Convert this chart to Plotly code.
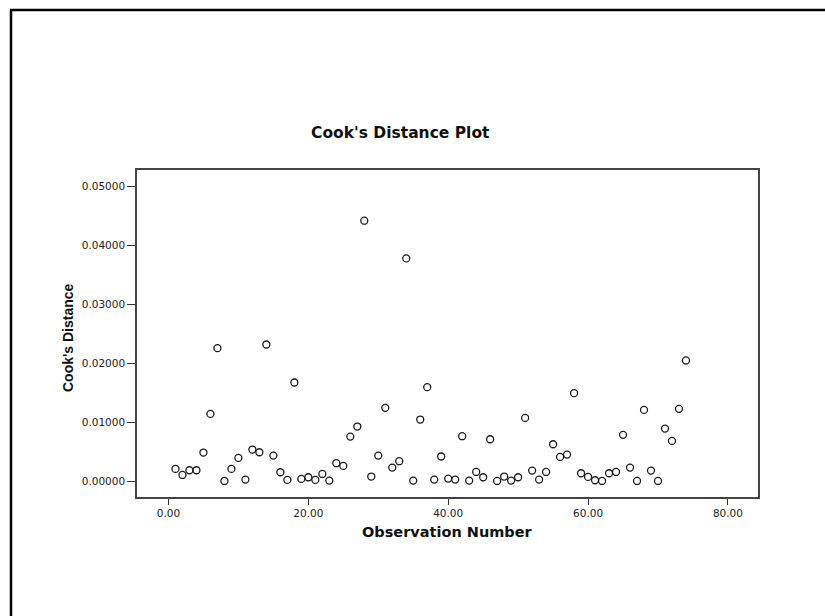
import plotly.graph_objects as go

# Data
observation = list(range(1, 75))
cooks_distance = [
    0.00210, 0.00107, 0.00187, 0.00187, 0.00487, 0.01143, 0.02258, 0.00005, 0.00210, 0.00396,
    0.00028, 0.00538, 0.00492, 0.02320, 0.00436, 0.00153, 0.00023, 0.01675, 0.00040, 0.00068,
    0.00023, 0.00124, 0.00011, 0.00306, 0.00260, 0.00758, 0.00928, 0.04420, 0.00080, 0.00436,
    0.01245, 0.00232, 0.00340, 0.03780, 0.00011, 0.01047, 0.01596, 0.00028, 0.00420, 0.00045,
    0.00028, 0.00764, 0.00011, 0.00158, 0.00068, 0.00713, 0.00005, 0.00080, 0.00011, 0.00068,
    0.01075, 0.00181, 0.00028, 0.00158, 0.00628, 0.00413, 0.00453, 0.01494, 0.00136, 0.00074,
    0.00017, 0.00005, 0.00136, 0.00158, 0.00787, 0.00232, 0.00005, 0.01210, 0.00181, 0.00005,
    0.00894, 0.00685, 0.01228, 0.02049,
]
x_ticks = [0, 20, 40, 60, 80]
y_ticks = [0.0, 0.01, 0.02, 0.03, 0.04, 0.05]

title_text = "Cook's Distance Plot"
x_title = "Observation Number"
y_title = "Cook's Distance"

fig = go.Figure()
fig.add_trace(go.Scatter(
    x=observation, y=cooks_distance, mode="markers",
    marker=dict(symbol="circle-open", size=7, color="#1a1a1a", line=dict(width=1.3)),
    showlegend=False, hoverinfo="x+y",
))

tick_font = dict(family="DejaVu Sans", size=10.5, color="#222222")

fig.update_layout(
    width=825, height=616,
    margin=dict(l=137, r=67, t=170, b=119),
    paper_bgcolor="white", plot_bgcolor="white",
    xaxis=dict(
        range=[-4.5, 84.3], tickvals=x_ticks, tickformat=".2f",
        showgrid=False, zeroline=False, showline=True, mirror=True,
        linecolor="#444444", linewidth=1.5,
        ticks="outside", ticklen=6, tickwidth=1.2, tickcolor="#333333",
        tickfont=tick_font,
    ),
    yaxis=dict(
        range=[-0.00267, 0.0528], tickvals=y_ticks, tickformat=".5f",
        showgrid=False, zeroline=False, showline=True, mirror=True,
        linecolor="#444444", linewidth=1.5,
        ticks="outside", ticklen=8, tickwidth=1.2, tickcolor="#333333",
        tickfont=tick_font,
    ),
    annotations=[
        dict(text="<b>" + title_text + "</b>", xref="paper", yref="paper",
             x=0.4251, y=1.1131, xanchor="center", yanchor="middle", showarrow=False,
             font=dict(family="DejaVu Sans", size=15.5, color="#111111")),
        dict(text="<b>" + x_title + "</b>", xref="paper", yref="paper",
             x=0.5, y=-0.1061, xanchor="center", yanchor="middle", showarrow=False,
             font=dict(family="DejaVu Sans", size=14.5, color="#111111")),
        dict(text="<b>" + y_title + "</b>", xref="paper", yref="paper",
             x=-0.1111, y=0.4862, xanchor="center", yanchor="middle", showarrow=False,
             textangle=-90,
             font=dict(family="Liberation Sans, Arial", size=14, color="#111111")),
    ],
    shapes=[
        dict(type="line", xref="paper", yref="paper", x0=-0.2029, x1=-0.2029,
             y0=1.4893, y1=-0.45, line=dict(color="black", width=2.5)),
        dict(type="line", xref="paper", yref="paper", x0=-0.2045, x1=1.2,
             y0=1.4893, y1=1.4893, line=dict(color="black", width=2.5)),
    ],
)

fig.write_html("out.html")
